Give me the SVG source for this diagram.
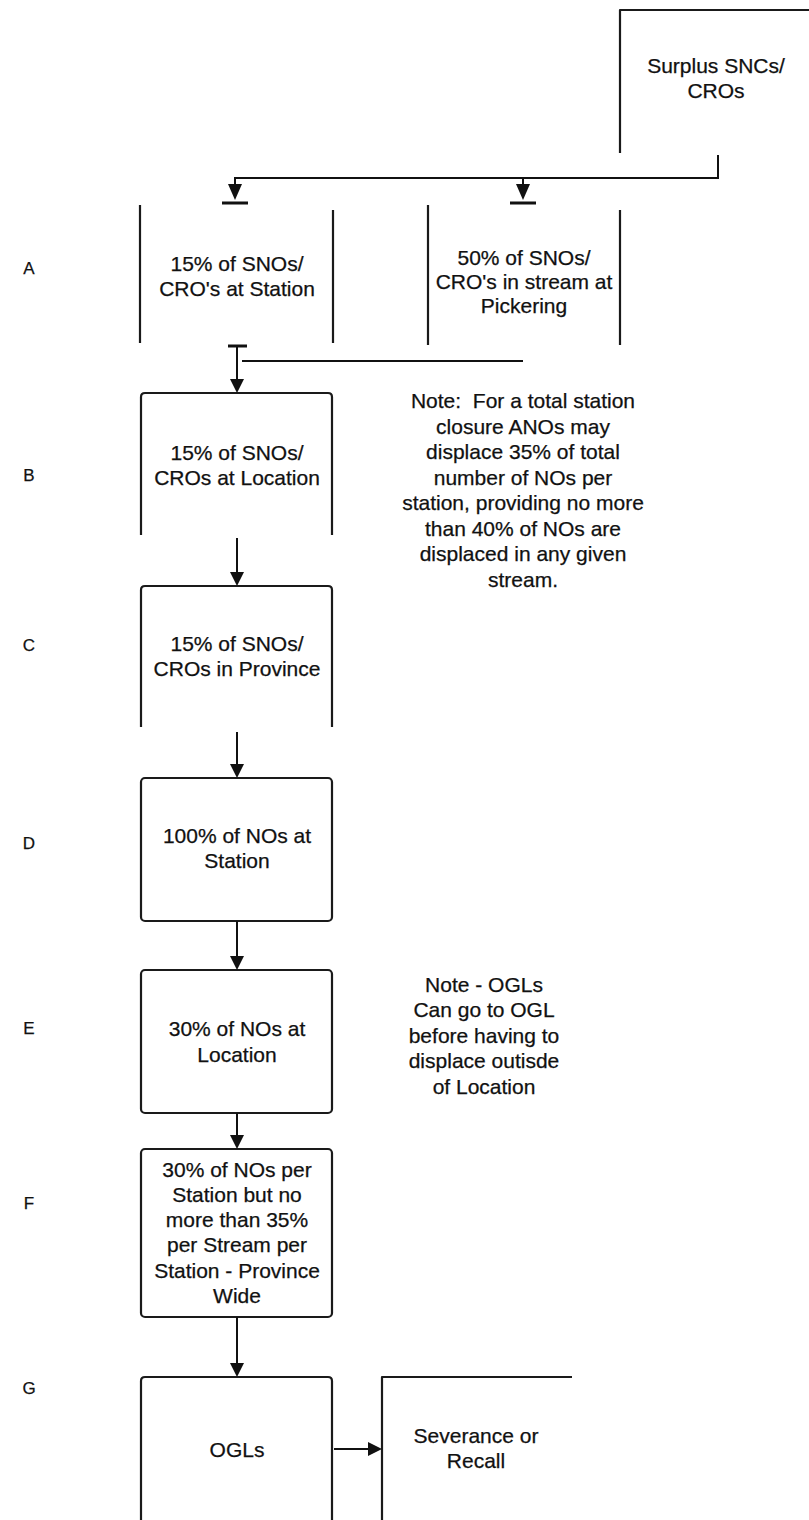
<svg xmlns="http://www.w3.org/2000/svg" width="809" height="1520" viewBox="0 0 809 1520">
<style>
  .t { font-family: "Liberation Sans", Arial, sans-serif; font-size: 21px; fill: #111; text-anchor: middle; stroke: #111; stroke-width: 0.25; }
  .lbl { font-family: "Liberation Sans", Arial, sans-serif; font-size: 17px; fill: #111; text-anchor: middle; stroke: #111; stroke-width: 0.25; }
  .box { fill: none; stroke: #1a1a1a; stroke-width: 2.2; stroke-linejoin: round; }
  .ln { fill: none; stroke: #111; stroke-width: 2; }
  .bar { fill: none; stroke: #111; stroke-width: 3; }
  .ah { fill: #111; }
</style>
<rect width="809" height="1520" fill="#ffffff"/>

<g id="row-labels">
  <text class="lbl" x="29" y="274">A</text>
  <text class="lbl" x="29" y="481">B</text>
  <text class="lbl" x="29" y="651">C</text>
  <text class="lbl" x="29" y="849">D</text>
  <text class="lbl" x="29" y="1034">E</text>
  <text class="lbl" x="29" y="1209">F</text>
  <text class="lbl" x="29" y="1394">G</text>
</g>

<g id="surplus">
  <path class="box" d="M620,153 V10 H809"/>
  <text class="t" x="716" y="73">Surplus SNCs/</text>
  <text class="t" x="716" y="98">CROs</text>
</g>

<g id="a-station">
  <path class="box" d="M140,205 V343 M333,210 V343"/>
  <text class="t" x="237" y="271">15% of SNOs/</text>
  <text class="t" x="237" y="296">CRO's at Station</text>
</g>

<g id="a-pickering">
  <path class="box" d="M428,205 V345 M620,210 V345"/>
  <text class="t" x="524" y="265">50% of SNOs/</text>
  <text class="t" x="524" y="289">CRO's in stream at</text>
  <text class="t" x="524" y="313">Pickering</text>
</g>

<g id="b-location">
  <path class="box" d="M141,535 V397 Q141,393 145,393 H328 Q332,393 332,397 V535"/>
  <text class="t" x="237" y="460">15% of SNOs/</text>
  <text class="t" x="237" y="485">CROs at Location</text>
</g>

<g id="c-province">
  <path class="box" d="M141,727 V590 Q141,586 145,586 H328 Q332,586 332,590 V727"/>
  <text class="t" x="237" y="651">15% of SNOs/</text>
  <text class="t" x="237" y="676">CROs in Province</text>
</g>

<g id="d-station">
  <rect class="box" x="141" y="778" width="191" height="143" rx="4"/>
  <text class="t" x="237" y="843">100% of NOs at</text>
  <text class="t" x="237" y="868">Station</text>
</g>

<g id="e-location">
  <rect class="box" x="141" y="970" width="191" height="143" rx="4"/>
  <text class="t" x="237" y="1036">30% of NOs at</text>
  <text class="t" x="237" y="1062">Location</text>
</g>

<g id="f-province-wide">
  <rect class="box" x="141" y="1149" width="191" height="168" rx="4"/>
  <text class="t" x="237" y="1177">30% of NOs per</text>
  <text class="t" x="237" y="1202">Station but no</text>
  <text class="t" x="237" y="1227">more than 35%</text>
  <text class="t" x="237" y="1252">per Stream per</text>
  <text class="t" x="237" y="1278">Station - Province</text>
  <text class="t" x="237" y="1303">Wide</text>
</g>

<g id="g-ogls">
  <path class="box" d="M141,1520 V1381 Q141,1377 145,1377 H328 Q332,1377 332,1381 V1520"/>
  <text class="t" x="237" y="1457">OGLs</text>
</g>

<g id="severance">
  <path class="box" d="M382,1520 V1377 H572"/>
  <text class="t" x="476" y="1443">Severance or</text>
  <text class="t" x="476" y="1468">Recall</text>
</g>

<g id="note-closure">
  <text class="t" x="523" y="408" style="white-space:pre">Note:  For a total station</text>
  <text class="t" x="523" y="434">closure ANOs may</text>
  <text class="t" x="523" y="459">displace 35% of total</text>
  <text class="t" x="523" y="485">number of NOs per</text>
  <text class="t" x="523" y="510">station, providing no more</text>
  <text class="t" x="523" y="536">than 40% of NOs are</text>
  <text class="t" x="523" y="561">displaced in any given</text>
  <text class="t" x="523" y="587">stream.</text>
</g>

<g id="note-ogls">
  <text class="t" x="484" y="992">Note - OGLs</text>
  <text class="t" x="484" y="1017">Can go to OGL</text>
  <text class="t" x="484" y="1043">before having to</text>
  <text class="t" x="484" y="1068">displace outisde</text>
  <text class="t" x="484" y="1094">of Location</text>
</g>

<g id="connectors">
  <path class="ln" d="M718,155 V178 H235 V186 M523,178 V186"/>
  <path class="ah" d="M228,184 L242,184 L235,200 Z"/>
  <path class="ah" d="M516,184 L530,184 L523,200 Z"/>
  <path class="bar" d="M222,203 H248 M510,203 H536"/>
  <path class="bar" d="M228,346 H247"/>
  <path class="ln" d="M237,346 V381 M242,361 H523"/>
  <path class="ah" d="M230,379 L244,379 L237,393 Z"/>
  <path class="ln" d="M237,538 V574"/>
  <path class="ah" d="M230,572 L244,572 L237,586 Z"/>
  <path class="ln" d="M237,732 V766"/>
  <path class="ah" d="M230,764 L244,764 L237,778 Z"/>
  <path class="ln" d="M237,921 V958"/>
  <path class="ah" d="M230,956 L244,956 L237,970 Z"/>
  <path class="ln" d="M237,1113 V1137"/>
  <path class="ah" d="M230,1135 L244,1135 L237,1149 Z"/>
  <path class="ln" d="M237,1317 V1365"/>
  <path class="ah" d="M230,1363 L244,1363 L237,1377 Z"/>
  <path class="ln" d="M334,1449 H370"/>
  <path class="ah" d="M368,1442 L368,1456 L382,1449 Z"/>
</g>
</svg>
